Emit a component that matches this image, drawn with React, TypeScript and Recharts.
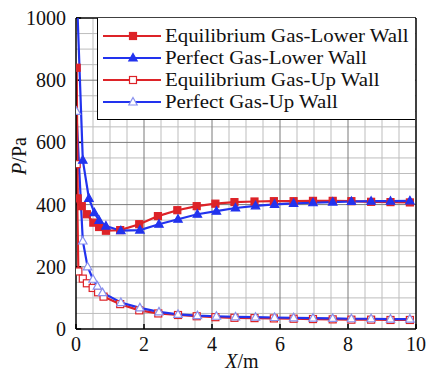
import React from "react";
import { LineChart, Line, XAxis, YAxis, ReferenceLine } from "recharts";

// --- Data ---

const eqLowerX = [0.02, 0.05, 0.17, 0.32, 0.51, 0.68, 0.88, 1.3, 1.86, 2.41, 2.98, 3.55, 4.1, 4.66, 5.25, 5.82, 6.4, 6.97, 7.55, 8.1, 8.68, 9.25, 9.82];
const eqLowerP = [840, 420, 395, 369, 342, 328, 316, 318, 337, 363, 382, 395, 403, 408, 410, 411, 411, 412, 412, 411, 409, 408, 407];

const pgLowerX = [0.03, 0.2, 0.38, 0.54, 0.68, 0.88, 1.32, 1.88, 2.44, 3.0, 3.57, 4.13, 4.69, 5.28, 5.84, 6.4, 6.97, 7.55, 8.1, 8.68, 9.25, 9.82];
const pgLowerP = [1060, 543, 420, 374, 349, 331, 316, 318, 337, 353, 369, 379, 389, 396, 401, 404, 406, 408, 410, 411, 411, 412];

const eqUpX = [0.02, 0.07, 0.2, 0.32, 0.49, 0.65, 0.81, 1.3, 1.86, 2.42, 3.0, 3.55, 4.1, 4.66, 5.25, 5.82, 6.4, 6.97, 7.55, 8.1, 8.68, 9.25, 9.82];
const eqUpP = [530, 185, 162, 147, 132, 118, 104, 80, 60, 50, 45, 41, 38, 36, 35, 34, 33, 32, 31, 30, 30, 29, 29];

const pgUpX = [0.01, 0.2, 0.34, 0.5, 0.63, 0.78, 1.32, 1.88, 2.44, 3.0, 3.57, 4.13, 4.69, 5.28, 5.84, 6.4, 6.97, 7.55, 8.1, 8.68, 9.25, 9.82];
const pgUpP = [700, 283, 200, 160, 138, 117, 85, 68, 55, 47, 43, 41, 39, 38, 37, 36, 35, 34, 33, 33, 32, 32];

const seriesNames = [
  "Equilibrium Gas-Lower Wall",
  "Perfect Gas-Lower Wall",
  "Equilibrium Gas-Up Wall",
  "Perfect Gas-Up Wall",
];

const X_TICKS = [0, 2, 4, 6, 8, 10];
const Y_TICKS = [0, 200, 400, 600, 800, 1000];
const X_MINOR = [0.5, 1, 1.5, 2.5, 3, 3.5, 4.5, 5, 5.5, 6.5, 7, 7.5, 8.5, 9, 9.5];
const Y_MINOR = [50, 100, 150, 250, 300, 350, 450, 500, 550, 650, 700, 750, 850, 900, 950];

const zip = (xs: number[], ps: number[]) => xs.map((x, i) => ({ x, p: ps[i] }));

const RED = "#dd2328";
const BLUE = "#2233ee";
const FONT = "Liberation Serif, DejaVu Serif, serif";

// --- Markers ---
const Square = ({ cx, cy, filled }: any) => (
  <rect x={cx - 3.5} y={cy - 3.5} width={7} height={7}
    fill={filled ? RED : "#fff"} stroke={RED} strokeWidth={1.2} />
);
const Tri = ({ cx, cy, filled }: any) => (
  <path d={`M${cx},${cy - 4.5} L${cx + 4.2},${cy + 3} L${cx - 4.2},${cy + 3} Z`}
    fill={filled ? BLUE : "#fff"} stroke={filled ? BLUE : "#8890ee"} strokeWidth={1.2} />
);

const dotFor = (kind: string, filled: boolean) => (props: any) => {
  const { cx, cy, index } = props;
  if (cx == null || cy == null) return <g key={index} />;
  return kind === "sq"
    ? <Square key={index} cx={cx} cy={cy} filled={filled} />
    : <Tri key={index} cx={cx} cy={cy} filled={filled} />;
};

const YTick = ({ x, y, payload }: any) => (
  <text x={x - 2} y={y} dy={7} textAnchor="end" fontSize={20} style={{ fontFamily: FONT }} fill="#111">
    {payload.value}
  </text>
);
const XTick = ({ x, y, payload }: any) => (
  <text x={x} y={y} dy={14} textAnchor="middle" fontSize={20} style={{ fontFamily: FONT }} fill="#111">
    {payload.value}
  </text>
);

const legendIcons = [
  <Square cx={30} cy={8} filled />,
  <Tri cx={30} cy={8} filled />,
  <Square cx={30} cy={8} filled={false} />,
  <Tri cx={30} cy={8} filled={false} />,
];
const legendColors = [RED, BLUE, RED, BLUE];

export default function App() {
  return (
    <div style={{ position: "absolute", left: 0, top: 0, width: 430, height: 373, background: "#fff" }}>
      <LineChart width={430} height={373} margin={{ top: 18, right: 14, bottom: 0, left: 0 }}>
        <XAxis type="number" dataKey="x" domain={[0, 10]} ticks={X_TICKS} allowDataOverflow
          height={44} tick={<XTick />} tickLine={false} axisLine={{ stroke: "#000", strokeWidth: 1.5 }}
          label={() => (
            <text x={242} y={368} textAnchor="middle" fontSize={20} style={{ fontFamily: FONT }} fill="#111">
              <tspan fontStyle="italic">X</tspan>/m
            </text>
          )} />
        <YAxis type="number" dataKey="p" domain={[0, 1000]} ticks={Y_TICKS} allowDataOverflow
          width={76} tick={<YTick />} tickLine={false} axisLine={{ stroke: "#000", strokeWidth: 1.5 }}
          label={() => (
            <text x={26} y={156} transform="rotate(-90 26 156)" textAnchor="middle" fontSize={20} style={{ fontFamily: FONT }} fill="#111">
              <tspan fontStyle="italic">P</tspan>/Pa
            </text>
          )} />

        {X_MINOR.map((v) => <ReferenceLine key={`xm${v}`} x={v} stroke="#bdbdbd" strokeWidth={1} />)}
        {Y_MINOR.map((v) => <ReferenceLine key={`ym${v}`} y={v} stroke="#bdbdbd" strokeWidth={1} />)}
        {X_TICKS.slice(1, -1).map((v) => <ReferenceLine key={`xM${v}`} x={v} stroke="#7a7a7a" strokeWidth={1} />)}
        {Y_TICKS.slice(1, -1).map((v) => <ReferenceLine key={`yM${v}`} y={v} stroke="#7a7a7a" strokeWidth={1} />)}
        {X_TICKS.map((v) => (
          <ReferenceLine key={`xt${v}`} segment={[{ x: v, y: 0 }, { x: v, y: 16 }]} stroke="#000" strokeWidth={1.5} />
        ))}
        {Y_TICKS.map((v) => (
          <ReferenceLine key={`yt${v}`} segment={[{ x: 0, y: v }, { x: 0.15, y: v }]} stroke="#000" strokeWidth={1.5} />
        ))}
        <ReferenceLine x={10} stroke="#000" strokeWidth={1.5} />
        <ReferenceLine y={1000} stroke="#000" strokeWidth={1.5} />

        <Line data={zip(eqUpX, eqUpP)} dataKey="p" stroke={RED} strokeWidth={2.2}
          dot={dotFor("sq", false)} isAnimationActive={false} />
        <Line data={zip(pgUpX, pgUpP)} dataKey="p" stroke={BLUE} strokeWidth={2.2}
          dot={dotFor("tri", false)} isAnimationActive={false} />
        <Line data={zip(eqLowerX, eqLowerP)} dataKey="p" stroke={RED} strokeWidth={2.2}
          dot={dotFor("sq", true)} isAnimationActive={false} />
        <Line data={zip(pgLowerX, pgLowerP)} dataKey="p" stroke={BLUE} strokeWidth={2.2}
          dot={dotFor("tri", true)} isAnimationActive={false} />
      </LineChart>

      {/* legend box in the top right corner */}
      <div style={{
        position: "absolute", left: 97, top: 18, width: 318, height: 102,
        background: "#fff", borderLeft: "1.5px solid #000", borderBottom: "1.5px solid #000",
        boxSizing: "border-box", paddingTop: 7, fontFamily: FONT, fontSize: 19.5, color: "#111",
      }}>
        {seriesNames.map((name, i) => (
          <div key={name} style={{ display: "flex", alignItems: "center", height: 22 }}>
            <svg width={62} height={16} style={{ marginLeft: 5, flexShrink: 0 }}>
              <line x1={0} y1={8} x2={58} y2={8} stroke={legendColors[i]} strokeWidth={2} />
              {legendIcons[i]}
            </svg>
            <span style={{
              whiteSpace: "nowrap", lineHeight: "22px", display: "inline-block",
              transform: "scaleX(1.07)", transformOrigin: "left center",
            }}>{name}</span>
          </div>
        ))}
      </div>
    </div>
  );
}
